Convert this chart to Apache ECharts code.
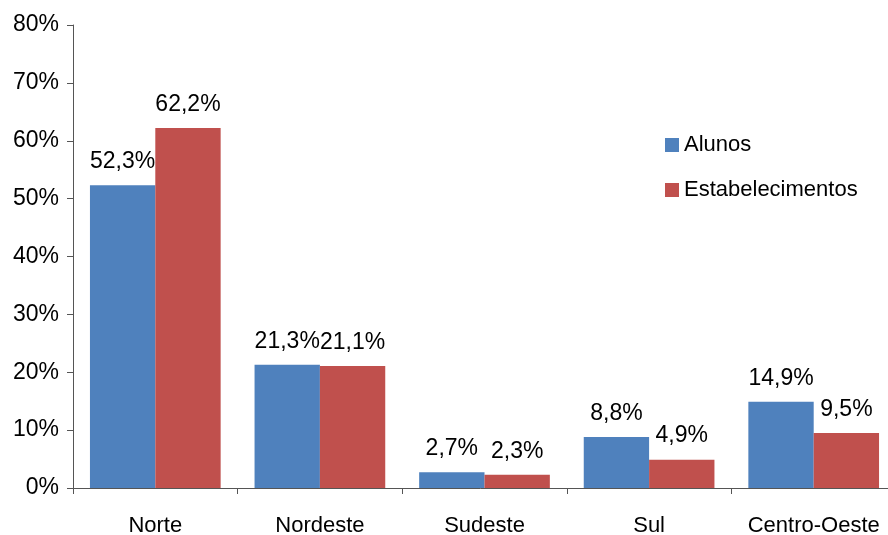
<!DOCTYPE html>
<html>
<head>
<meta charset="utf-8">
<script src="https://cdn.jsdelivr.net/npm/echarts@6/dist/echarts.min.js"></script>
<style>
    html, body { margin: 0; padding: 0; background: #fff; }
    #chart { width: 888px; height: 535px; }
</style>
</head>
<body>
<div id="chart"></div>
<script>
const regions = ['Norte', 'Nordeste', 'Sudeste', 'Sul', 'Centro-Oeste']
const alunos = [52.3, 21.3, 2.7, 8.8, 14.9]
const estabelecimentos = [62.2, 21.1, 2.3, 4.9, 9.5]

const fontFamily = 'Liberation Sans, Arial, sans-serif'
const pct = v => v.toFixed(1).replace('.', ',') + '%'

const barSeries = (name, data, color) => ({
    name: name,
    type: 'bar',
    data: data,
    barGap: 0,
    barCategoryGap: '20.6%',
    itemStyle: { color: color },
    label: {
        show: true,
        position: 'top',
        distance: 12,
        color: '#000',
        fontSize: 23,
        fontFamily: fontFamily,
        formatter: p => pct(p.value)
    }
})

const chart = echarts.init(document.getElementById('chart'))
chart.setOption({
    animation: false,
    grid: {
        left: 73,
        top: 25,
        width: 823,
        height: 463,
        outerBoundsMode: 'none'
    },
    legend: {
        orient: 'vertical',
        left: 660,
        top: 129,
        itemWidth: 14,
        itemHeight: 14,
        itemGap: 23,
        icon: 'rect',
        textStyle: { color: '#000', fontSize: 22, lineHeight: 22, fontFamily: fontFamily },
        data: ['Alunos', 'Estabelecimentos']
    },
    xAxis: {
        type: 'category',
        data: regions,
        axisLine: { lineStyle: { color: '#555', width: 1 } },
        axisTick: { show: true, length: 6, lineStyle: { color: '#555' } },
        axisLabel: {
            interval: 0,
            color: '#000',
            fontSize: 22,
            fontFamily: fontFamily,
            margin: 27
        }
    },
    yAxis: {
        type: 'value',
        min: 0,
        max: 80,
        interval: 10,
        axisLine: { show: true, lineStyle: { color: '#555', width: 1 } },
        axisTick: { show: true, length: 6, lineStyle: { color: '#555' } },
        splitLine: { show: false },
        axisLabel: {
            color: '#000',
            fontSize: 23,
            fontFamily: fontFamily,
            margin: 14,
            formatter: v => v + '%'
        }
    },
    series: [
        barSeries('Alunos', alunos, '#4F81BD'),
        barSeries('Estabelecimentos', estabelecimentos, '#C0504D')
    ]
})
</script>
</body>
</html>
